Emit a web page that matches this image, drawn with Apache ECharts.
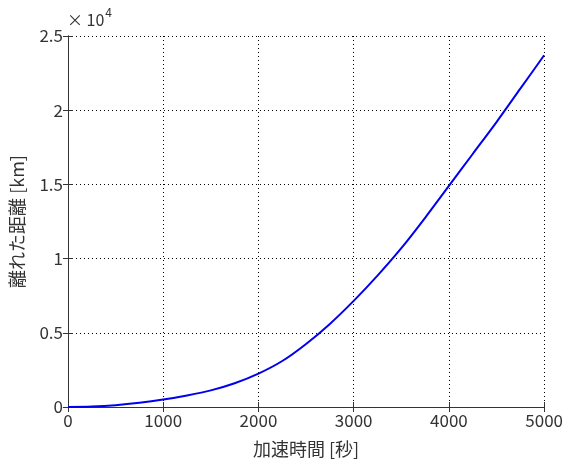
<!DOCTYPE html>
<html>
<head>
<meta charset="utf-8">
<script src="https://cdn.jsdelivr.net/npm/echarts@6/dist/echarts.min.js"></script>
<style>html,body{margin:0;padding:0;background:#fff;}#c{width:566px;height:463px;}</style>
</head>
<body>
<div id="c"></div>
<script>
var times = [0,250,500,750,1000,1250,1500,1750,2000,2250,2500,2750,3000,3250,3500,3750,4000,4250,4500,4750,5000];
var distances = [0,30,120,280,500,780,1120,1600,2250,3100,4250,5600,7150,8850,10700,12750,14900,17050,19200,21450,23700];
var xTicks = [0,1000,2000,3000,4000,5000];
var yTicks = [0,5000,10000,15000,20000,25000];
var xName = '加速時間 [秒]';
var yName = '離れた距離 [km]';

var font = "'Noto Sans CJK JP', 'Noto Sans', sans-serif";
var data = times.map(function(t,i){return [t, distances[i]];});
var chart = echarts.init(document.getElementById('c'));
var gridLine = {show:true, lineStyle:{color:'#000', width:1, type:[1,3]}};
var baseAxis = {
  axisLine:{show:true, lineStyle:{color:'#333', width:1}},
  axisTick:{show:true, inside:true, length:5, lineStyle:{color:'#333'}},
};
chart.setOption({
  animation:false,
  grid:{left:67, right:19, top:36, bottom:52, containLabel:false},
  xAxis:[
    Object.assign({}, baseAxis, {type:'value', min:0, max:5000, interval:1000, position:'bottom',
      splitLine:gridLine,
      axisLabel:{color:'#333', fontSize:17, fontFamily:font, margin:5,
        formatter:function(v){return String(v);}},
      name:xName, nameLocation:'middle', nameGap:33,
      nameTextStyle:{color:'#333', fontSize:18, fontFamily:font}}),
    Object.assign({}, baseAxis, {type:'value', min:0, max:5000, interval:1000, position:'top',
      splitLine:{show:false}, axisLabel:{show:false}})
  ],
  yAxis:[
    Object.assign({}, baseAxis, {type:'value', min:0, max:25000, interval:5000, position:'left',
      splitLine:gridLine,
      axisLabel:{color:'#333', fontSize:17, fontFamily:font, margin:5,
        formatter:function(v){return String(v/10000);}},
      name:yName, nameLocation:'middle', nameGap:42, nameRotate:90,
      nameTextStyle:{color:'#333', fontSize:18, fontFamily:font}}),
    Object.assign({}, baseAxis, {type:'value', min:0, max:25000, interval:5000, position:'right',
      splitLine:{show:false}, axisLabel:{show:false}})
  ],
  graphic:[{
    type:'text', left:67, top:6,
    style:{
      text:'{a|× 10}{b|4}',
      rich:{
        a:{fontSize:16, fontFamily:font, fill:'#333', verticalAlign:'bottom'},
        b:{fontSize:12, fontFamily:font, fill:'#333', verticalAlign:'top', padding:[0,0,10,1]}
      }
    }
  }],
  series:[{
    type:'line', data:data, xAxisIndex:0, yAxisIndex:0,
    smooth:0.3, showSymbol:false,
    lineStyle:{color:'#0000ee', width:2}
  }]
});
</script>
</body>
</html>
